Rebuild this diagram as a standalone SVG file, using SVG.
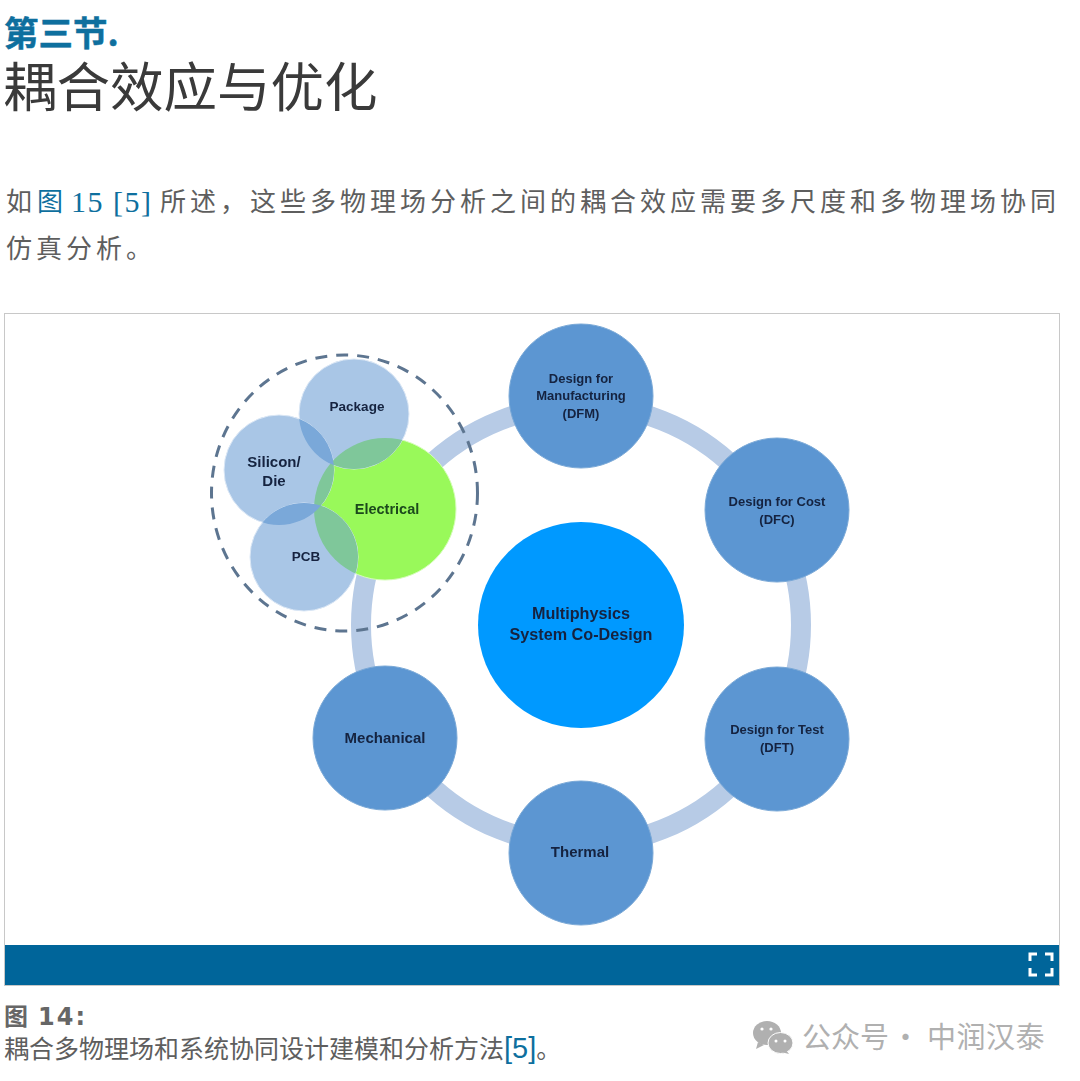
<svg xmlns="http://www.w3.org/2000/svg" width="1080" height="1081" viewBox="0 0 1080 1081">
<style>
text{font-family:"Noto Sans CJK SC","Liberation Sans",sans-serif}
.body{font-size:26px;fill:#5e5e5e;letter-spacing:4px}
.link{fill:#0e6f9e}
.serif{font-family:"Liberation Serif","Noto Sans CJK SC",serif;font-size:30px;letter-spacing:1.5px}
.lab{font-family:"Liberation Sans",sans-serif;font-weight:700;font-size:13.5px;fill:#14233f;text-anchor:middle}
.sm{font-size:13px}
.md{font-size:15px}
.big{font-size:16.2px}
.node{fill:#5b96d2;stroke:#7aa8d6;stroke-width:1}
.sub{fill:#a9c6e6;stroke:#dbe7f5;stroke-width:1}
.soft{filter:url(#soft)}
.wm{font-size:29px;fill:#b0b0b0}
</style>
<defs>
<filter id="soft" x="-10%" y="-20%" width="120%" height="140%"><feGaussianBlur stdDeviation="0.5"/></filter>
<clipPath id="cE"><circle cx="385" cy="509" r="71"/></clipPath>
<clipPath id="cS"><circle cx="279" cy="470" r="55"/></clipPath>
</defs>
<rect width="1080" height="1081" fill="#fff"/>
<g id="heading">
<text x="4" y="46" font-size="34.500" font-weight="700" fill="#0e6f9e" stroke="#0e6f9e" stroke-width=".5">第三节.</text>
<text x="3" y="107" font-size="53.500" fill="#3a3a3a">耦合效应与优化</text>
</g>
<g id="paragraph">
<text class="body" x="6" y="211">如</text>
<text class="body link" x="37" y="211">图</text>
<text class="body link serif" x="71" y="212">15 [5]</text>
<text class="body" x="160" y="211">所述，这些多物理场分析之间的耦合效应需要多尺度和多物理场协同</text>
<text class="body" x="6" y="258">仿真分析。</text>
</g>
<rect id="frame" x="4.500" y="313.500" width="1055" height="672" fill="#fff" stroke="#c8c8c8"/>
<g id="connectors" class="soft">
<circle cx="581" cy="625" r="220" fill="none" stroke="#b7cbe6" stroke-width="20"/>
</g>
<ellipse id="boundary" class="soft" cx="344.500" cy="493" rx="133" ry="138" fill="none" stroke="#5d7590" stroke-width="3" stroke-dasharray="12 9"/>
<g id="center" class="soft"><circle cx="581" cy="625" r="103" fill="#0099ff"/><text class="lab big" x="581" y="619">Multiphysics</text><text class="lab big" x="581" y="640">System Co-Design</text></g>
<g id="dfm" class="soft"><circle class="node" cx="581" cy="396" r="72"/><text class="lab sm" x="581" y="383">Design for</text><text class="lab sm" x="581" y="400">Manufacturing</text><text class="lab sm" x="581" y="418">(DFM)</text></g>
<g id="dfc" class="soft"><circle class="node" cx="777" cy="510" r="72"/><text class="lab sm" x="777" y="506">Design for Cost</text><text class="lab sm" x="777" y="524">(DFC)</text></g>
<g id="dft" class="soft"><circle class="node" cx="777" cy="739" r="72"/><text class="lab sm" x="777" y="734">Design for Test</text><text class="lab sm" x="777" y="752">(DFT)</text></g>
<g id="thermal" class="soft"><circle class="node" cx="581" cy="853" r="72"/><text class="lab md" x="580" y="857">Thermal</text></g>
<g id="mechanical" class="soft"><circle class="node" cx="385" cy="738" r="72"/><text class="lab md" x="385" y="743">Mechanical</text></g>
<g id="electrical" class="soft"><circle cx="385" cy="509" r="71" fill="#99f95a" stroke="#d5fcb9"/></g>
<g id="package" class="soft"><circle class="sub" cx="354" cy="414" r="55"/></g>
<g id="silicon" class="soft"><circle class="sub" cx="279" cy="470" r="55"/></g>
<g id="pcb" class="soft"><circle class="sub" cx="304" cy="557" r="54"/></g>
<g id="overlaps" class="soft">
<g clip-path="url(#cE)"><circle cx="354" cy="414" r="55" fill="#7fc79a"/><circle cx="279" cy="470" r="55" fill="#7fc79a"/><circle cx="304" cy="557" r="54" fill="#7fc79a"/></g>
<g clip-path="url(#cS)"><circle cx="354" cy="414" r="55" fill="#7aa8d9"/><circle cx="304" cy="557" r="54" fill="#7aa8d9"/></g>
</g>
<g id="sublabels" class="soft">
<text class="lab" x="357" y="411">Package</text>
<text class="lab md" x="274" y="467">Silicon/</text>
<text class="lab md" x="274" y="486">Die</text>
<text class="lab" x="306" y="561">PCB</text>
<text class="lab" x="387" y="514" style="fill:#1c4a1c;font-size:14.500px">Electrical</text>
</g>
<g id="toolbar">
<rect x="5" y="945" width="1054" height="40" fill="#00659a"/>
<path d="M1030 961V954H1037M1045 954H1052V961M1030 968V975H1037M1045 975H1052V968" fill="none" stroke="#fff" stroke-width="3"/>
</g>
<g id="caption">
<text x="4" y="1025" font-size="24" font-weight="700" fill="#666">图</text>
<text x="38" y="1025" font-size="24" font-weight="700" fill="#666" letter-spacing="2" style="font-family:'DejaVu Sans',sans-serif">14:</text>
<text x="4" y="1058" font-size="25" fill="#5e5e5e">耦合多物理场和系统协同设计建模和分析方法<tspan fill="#0e6f9e" font-size="29" style="font-family:'Liberation Sans',sans-serif">[5]</tspan>。</text>
</g>
<g id="watermark">
<ellipse cx="767" cy="1033" rx="14" ry="12" fill="#b0b0b0"/>
<path d="M758 1042l-2 7 8-4z" fill="#b0b0b0"/>
<ellipse cx="780.500" cy="1043" rx="12.500" ry="10.500" fill="#b0b0b0" stroke="#fff" stroke-width="1"/>
<path d="M786 1050l3 4-8-2z" fill="#b0b0b0"/>
<circle cx="762" cy="1029" r="1.600" fill="#fff"/><circle cx="771" cy="1029" r="1.600" fill="#fff"/>
<circle cx="776" cy="1041" r="1.500" fill="#fff"/><circle cx="785" cy="1041" r="1.500" fill="#fff"/>
<text class="wm" x="802" y="1048">公众号</text>
<text class="wm" x="891" y="1048">·</text>
<text class="wm" x="927" y="1048" letter-spacing=".5">中润汉泰</text>
</g>
</svg>
